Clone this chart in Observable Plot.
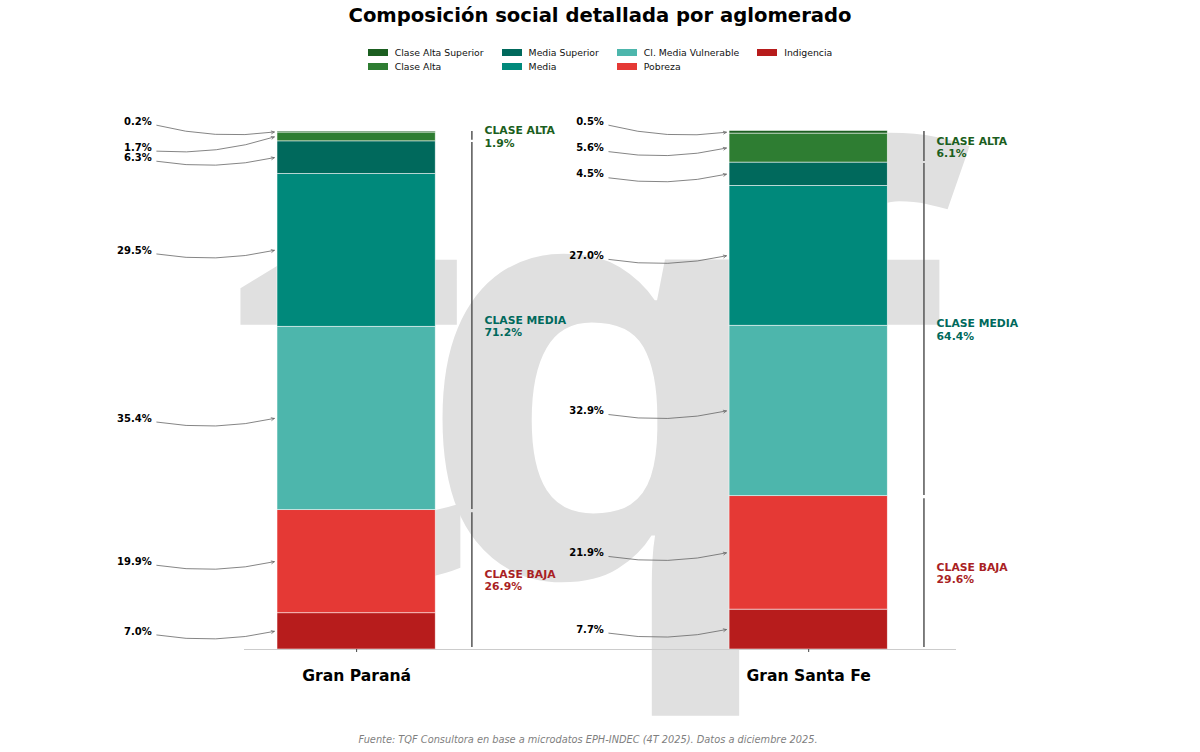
<!DOCTYPE html>
<html lang="es">
<head>
<meta charset="utf-8">
<script src="https://cdn.jsdelivr.net/npm/d3@7"></script>
<script src="https://cdn.jsdelivr.net/npm/@observablehq/plot@0.6"></script>
<style>
  html, body { margin: 0; padding: 0; background: #fff; width: 1200px; overflow: hidden; }
  body { font-family: "DejaVu Sans", sans-serif; color: #000; }
  #title { height: 32px; line-height: 32px; text-align: center; font-size: 19.6px; font-weight: bold; }
  #legend { height: 58px; box-sizing: border-box; padding-top: 13px; display: flex; justify-content: center; }
  #legend .grid { display: inline-grid; grid-auto-flow: column; grid-template-rows: 14px 14px; column-gap: 18px; font-size: 9.3px; color: #111; }
  #legend .item { display: flex; align-items: center; white-space: nowrap; height: 14px; }
  #legend .sw { width: 20px; height: 7px; margin-right: 7px; flex: none; }
  #chart { height: 630px; }
  #chart svg { display: block; overflow: visible; }
  #caption { position: absolute; left: 0; top: 733px; width: 1176px; text-align: center; font-size: 9.8px; font-style: italic; color: #7f7f7f; line-height: 14px; }
</style>
</head>
<body>
<div id="title">Composición social detallada por aglomerado</div>
<div id="legend"><div class="grid"></div></div>
<div id="chart"></div>
<div id="caption">Fuente: TQF Consultora en base a microdatos EPH-INDEC (4T 2025). Datos a diciembre 2025.</div>
<script>
// Data (bottom of the stack first)
const aglomerados = ["Gran Paraná", "Gran Santa Fe"];
const categorias = ["Indigencia", "Pobreza", "Cl. Media Vulnerable", "Media", "Media Superior", "Clase Alta", "Clase Alta Superior"];
const colores = ["#b71c1c", "#e53935", "#4db6ac", "#00897b", "#00695c", "#2e7d32", "#1b5e20"];
const valoresParana = [7.0, 19.9, 35.4, 29.5, 6.3, 1.7, 0.2];
const valoresSantaFe = [7.7, 21.9, 32.9, 27.0, 4.5, 5.6, 0.5];
const desvioParana = [0, 0, 0, 0, 0, -2.05, 2.0];
const desvioSantaFe = [0, 0, 0, 0, 0, 0, 2.05];
const clases = ["CLASE BAJA", "CLASE MEDIA", "CLASE ALTA"];
const colorClase = ["#a91f24", "#00695c", "#1b5e20"];
const clasesParana = [26.9, 71.2, 1.9];
const clasesSantaFe = [29.6, 64.4, 6.1];
const legendOrder = ["Clase Alta Superior", "Clase Alta", "Media Superior", "Media", "Cl. Media Vulnerable", "Pobreza", "Indigencia"];
const watermark = ["t", "q", "f"];
const watermarkX = [-0.008, 0.535, 1.05];

// Legend
const grid = document.querySelector("#legend .grid");
for (const name of legendOrder) {
  const it = document.createElement("div"); it.className = "item";
  const sw = document.createElement("span"); sw.className = "sw";
  sw.style.background = colores[categorias.indexOf(name)];
  const tx = document.createElement("span"); tx.textContent = name;
  it.append(sw, tx); grid.append(it);
}

// Tables derived from the arrays
const BAR = 0.175;
const segmentos = [], clasesRows = [];
[[valoresParana, desvioParana, clasesParana], [valoresSantaFe, desvioSantaFe, clasesSantaFe]].forEach(([vals, nudge, cls], pos) => {
  let acc = 0;
  vals.forEach((v, i) => {
    const y1 = acc, y2 = acc + v; acc = y2;
    const mid = (y1 + y2) / 2;
    segmentos.push({pos, cat: categorias[i], v, y1, y2, mid, labelY: mid + nudge[i]});
  });
  let c = 0;
  cls.forEach((v, i) => {
    const lo = c, hi = i === 2 ? 100 : c + v; c += v;
    clasesRows.push({
      pos, clase: clases[i], v, color: colorClase[i], mid: (lo + hi) / 2,
      lo: i === 0 ? 0.4 : lo + (i === 1 ? 0.15 : 0.2),
      hi: i === 0 ? hi - 0.5 : i === 1 ? hi - 0.2 : hi
    });
  });
});

const font = "DejaVu Sans";
const chart = Plot.plot({
  width: 1200,
  height: 630,
  marginLeft: 244, marginRight: 244, marginTop: 41, marginBottom: 71,
  style: {fontFamily: font, background: "transparent", overflow: "visible"},
  x: {domain: [-0.248, 1.327]},
  y: {domain: [0, 100], axis: null},
  color: {domain: categorias, range: colores},
  marks: [
    Plot.text(watermark, {
      x: (d, i) => watermarkX[i], y: 14.1, text: d => d,
      fontSize: 580, fontWeight: "bold", fontFamily: "Noto Sans", fill: "#e0e0e0",
      textAnchor: "middle", lineAnchor: "bottom", clip: false
    }),
    Plot.rect(segmentos, {
      x1: d => d.pos - BAR, x2: d => d.pos + BAR, y1: "y1", y2: "y2",
      fill: "cat", stroke: "#fff", strokeOpacity: 0.75, strokeWidth: 0.7
    }),
    Plot.ruleY([0], {stroke: "#cccccc", strokeWidth: 1}),
    Plot.axisX({
      ticks: [0, 1], tickFormat: i => aglomerados[i], tickSize: 3, tickPadding: 17,
      fontSize: 15.6, fontWeight: "bold", fill: "#000", stroke: "#444", label: null
    }),
    Plot.arrow(segmentos, {
      x1: d => d.pos - 0.442, x2: d => d.pos - 0.182,
      y1: d => d.labelY - 0.7, y2: "mid",
      bend: -11, stroke: "#666", strokeWidth: 0.8, headLength: 6, headAngle: 50
    }),
    Plot.text(segmentos, {
      x: d => d.pos - 0.453, y: "labelY", text: d => d.v.toFixed(1) + "%",
      textAnchor: "end", fontSize: 10, fontWeight: "bold", fill: "#000"
    }),
    Plot.ruleX(clasesRows, {x: d => d.pos + 0.255, y1: "lo", y2: "hi", stroke: "#555", strokeWidth: 1.5}),
    Plot.text(clasesRows, {
      x: d => d.pos + 0.283, y: "mid", text: d => `${d.clase}\n${d.v.toFixed(1)}%`,
      textAnchor: "start", fontSize: 10.8, lineHeight: 1.15, fontWeight: "bold", fill: d => d.color
    })
  ]
});
document.getElementById("chart").append(chart);
</script>
</body>
</html>
